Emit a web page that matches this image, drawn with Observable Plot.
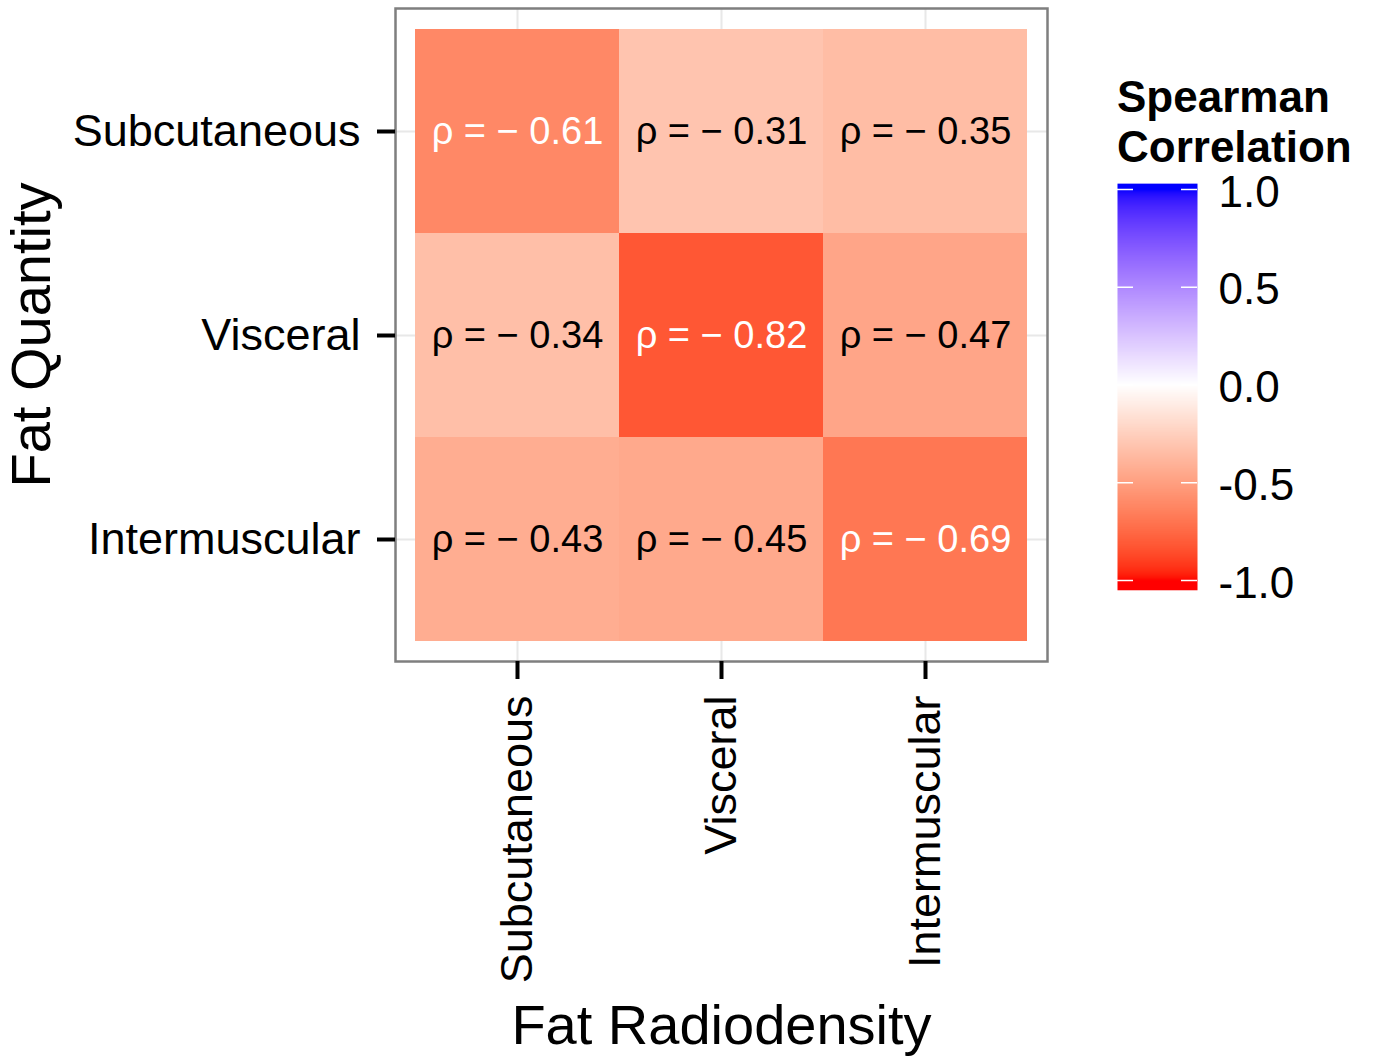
<!DOCTYPE html>
<html>
<head>
<meta charset="utf-8">
<script src="https://cdn.jsdelivr.net/npm/d3@7"></script>
<script src="https://cdn.jsdelivr.net/npm/@observablehq/plot@0.6"></script>
<style>
  html, body { margin: 0; padding: 0; background: white; }
  #wrap { position: relative; width: 1376px; height: 1057px; background: white; font-family: "Liberation Sans", Arial, sans-serif; }
  #main { position: absolute; left: 0; top: 0; }
  #legend { position: absolute; left: 1100px; top: 150px; }
  #ltitle { position: absolute; left: 1117px; top: 72px; font-weight: bold; font-size: 44px; line-height: 50px; color: black; white-space: nowrap; }
</style>
</head>
<body>
<div id="wrap">
  <div id="main"></div>
  <div id="legend"></div>
  <div id="ltitle">Spearman<br>Correlation</div>
</div>
<script>
// Data
const radiodensity = ["Subcutaneous", "Visceral", "Intermuscular"]; // x categories
const quantity = ["Subcutaneous", "Visceral", "Intermuscular"];     // y categories (top to bottom)
const rhoSubcutaneous = [-0.61, -0.31, -0.35];
const rhoVisceral = [-0.34, -0.82, -0.47];
const rhoIntermuscular = [-0.43, -0.45, -0.69];
const legendTicks = [-1, -0.5, 0, 0.5, 1];

const rows = [rhoSubcutaneous, rhoVisceral, rhoIntermuscular];
const data = [];
quantity.forEach((q, i) => radiodensity.forEach((r, j) => data.push({quantity: q, radio: r, value: rows[i][j]})));

const colorScale = {type: "linear", domain: [-1, 0, 1], range: ["red", "white", "blue"], interpolate: "lab", clamp: true};
const font = "'Liberation Sans', Arial, sans-serif";
const label = d => `ρ = − ${Math.abs(d.value).toFixed(2)}`;

const main = Plot.plot({
  width: 1100,
  height: 1057,
  marginLeft: 395,
  marginRight: 53,
  marginTop: 8,
  marginBottom: 396,
  style: {fontFamily: font, background: "white", color: "black"},
  x: {domain: radiodensity, range: [414, 1028], padding: 0},
  y: {domain: quantity, range: [28, 641], padding: 0},
  color: colorScale,
  marks: [
    Plot.gridX({stroke: "#e8e8e8", strokeOpacity: 1, strokeWidth: 2}),
    Plot.gridY({stroke: "#e8e8e8", strokeOpacity: 1, strokeWidth: 2}),
    Plot.cell(data, {x: "radio", y: "quantity", fill: "value", inset: 0}),
    Plot.text(data.filter(d => d.value < -0.6), {x: "radio", y: "quantity", text: label, fill: "white", fontSize: 38}),
    Plot.text(data.filter(d => d.value >= -0.6), {x: "radio", y: "quantity", text: label, fill: "black", fontSize: 38}),
    Plot.frame({stroke: "#7f7f7f", strokeWidth: 2.5}),
    Plot.axisY({tickSize: 18, tickPadding: 17, strokeWidth: 4, fontSize: 45, label: "Fat Quantity", labelAnchor: "center", labelOffset: 385, labelArrow: "none"}),
    Plot.axisX({tickSize: 18, tickPadding: 16, strokeWidth: 4, fontSize: 45, tickRotate: -90, label: "Fat Radiodensity", labelAnchor: "center", labelOffset: 382, labelArrow: "none"})
  ]
});
main.querySelectorAll("[aria-label='y-axis label'] text, [aria-label='x-axis label'] text").forEach(t => t.setAttribute("font-size", 56));
document.getElementById("main").appendChild(main);

const legend = Plot.plot({
  width: 276,
  height: 460,
  marginLeft: 17,
  marginRight: 179,
  marginTop: 39,
  marginBottom: 30,
  style: {fontFamily: font, background: "transparent", color: "black", overflow: "visible"},
  x: {domain: [0, 1], axis: null},
  y: {domain: [-1, 1]},
  color: colorScale,
  marks: [
    Plot.raster({x1: 0, x2: 1, y1: -1.05, y2: 1.03, width: 1, height: 300, fill: (x, y) => y, imageRendering: "auto"}),
    Plot.ruleY(legendTicks, {x1: 0, x2: 0.2, stroke: "white", strokeWidth: 1.5}),
    Plot.ruleY(legendTicks, {x1: 0.8, x2: 1, stroke: "white", strokeWidth: 1.5}),
    Plot.axisY(legendTicks, {anchor: "right", tickSize: 0, tickPadding: 21, fontSize: 44, tickFormat: d => d.toFixed(1), dy: 3, label: null})
  ]
});
document.getElementById("legend").appendChild(legend);
</script>
</body>
</html>
